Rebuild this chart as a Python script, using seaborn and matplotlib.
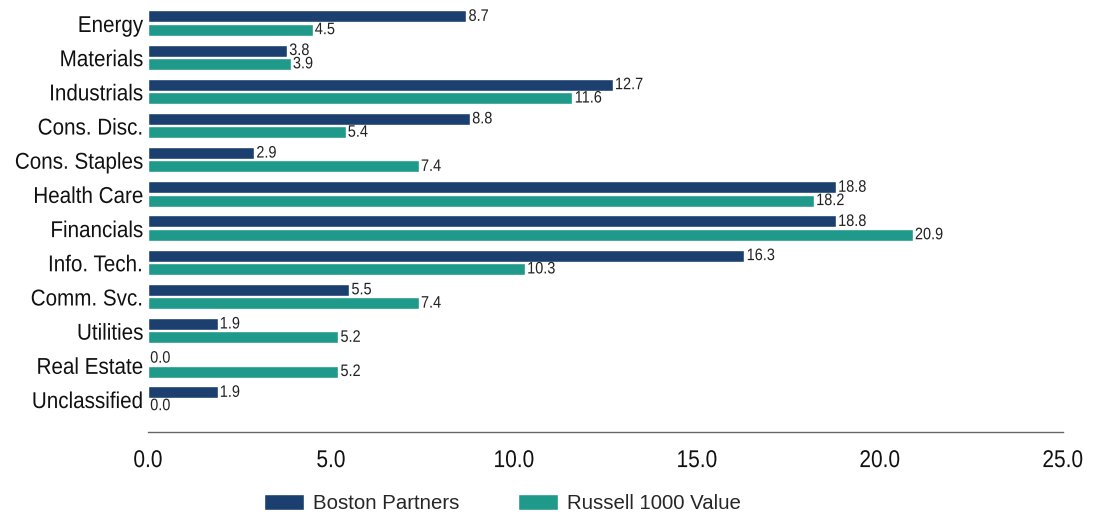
import pandas as pd
import matplotlib.pyplot as plt
import seaborn as sns
from matplotlib.patheffects import AbstractPathEffect
from matplotlib.transforms import Affine2D

# sector weights
sectors = ['Energy', 'Materials', 'Industrials', 'Cons. Disc.', 'Cons. Staples',
           'Health Care', 'Financials', 'Info. Tech.', 'Comm. Svc.', 'Utilities',
           'Real Estate', 'Unclassified']
boston = [8.7, 3.8, 12.7, 8.8, 2.9, 18.8, 18.8, 16.3, 5.5, 1.9, 0.0, 1.9]
russell = [4.5, 3.9, 11.6, 5.4, 7.4, 18.2, 20.9, 10.3, 7.4, 5.2, 5.2, 0.0]
series_names = ['Boston Partners', 'Russell 1000 Value']
x_ticks = [0, 5, 10, 15, 20, 25]

df = pd.DataFrame({
    'sector': sectors * 2,
    'value': boston + russell,
    'series': [series_names[0]] * len(sectors) + [series_names[1]] * len(sectors),
})


# no narrow font installed, so squeeze the glyphs sideways instead
class Narrow(AbstractPathEffect):
    def __init__(self, sx=0.87, anchor=0.0):
        super().__init__()
        self.sx = sx
        self.anchor = anchor

    def draw_path(self, renderer, gc, tpath, affine, rgbFace=None):
        ext = tpath.get_extents()
        cx = ext.x0 + self.anchor * ext.width
        t = Affine2D().translate(-cx, 0).scale(self.sx, 1).translate(cx, 0) + affine
        renderer.draw_path(gc, tpath, t, rgbFace)


sns.set_style('white')
plt.rcParams['font.family'] = ['Liberation Sans', 'DejaVu Sans']

fig = plt.figure(figsize=(10.99, 5.14), dpi=100)
ax = fig.add_axes([0.1347, 0.1595, 0.8323, 0.829])

sns.barplot(data=df, y='sector', x='value', hue='series', orient='h',
            palette=['#1b3f6e', '#1f9a8a'], saturation=1, width=0.78, gap=0.1,
            order=sectors, hue_order=series_names, ax=ax)

for cont in ax.containers:
    labels = ax.bar_label(cont, fmt='%.1f', padding=1.5, fontsize=12, color='#222222')
    for t in labels:
        t.set_path_effects([Narrow(0.87, 0.0)])

ax.set_xlim(0, 25)
ax.set_ylim(len(sectors) - 1 + 0.965, -0.5)
ax.set_xticks(x_ticks)
ax.set_xticklabels([f'{t:.1f}' for t in x_ticks], fontsize=17.5, color='#111111')
ax.tick_params(axis='x', length=0, pad=13)
ax.tick_params(axis='y', length=0, pad=3.5, labelsize=16.5, labelcolor='#111111')
for t in ax.get_xticklabels():
    t.set_path_effects([Narrow(0.86, 0.5)])
for t in ax.get_yticklabels():
    t.set_path_effects([Narrow(0.9, 1.0)])
ax.set_xlabel('')
ax.set_ylabel('')
for s in ['top', 'right', 'left']:
    ax.spines[s].set_visible(False)
ax.spines['bottom'].set_color('#666666')
ax.spines['bottom'].set_linewidth(1)

ax.get_legend().remove()
handles, labels = ax.get_legend_handles_labels()
fig.legend(handles, labels, loc='center', bbox_to_anchor=(0.457, 0.021), ncol=2,
           frameon=False, fontsize=14.7, handlelength=1.95, handleheight=0.83,
           columnspacing=2.9, handletextpad=0.44, borderpad=0)

fig.savefig('out.png', dpi=100)
